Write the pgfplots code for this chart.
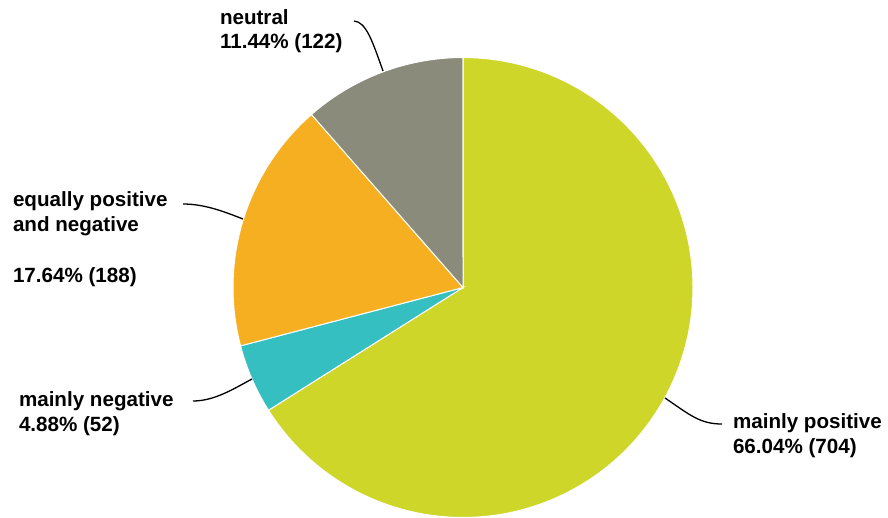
\documentclass[border=0pt]{standalone}
\usepackage{fontspec}
\setmainfont{Liberation Sans}
\usepackage{pgfplots}
\usepackage{pgfplotstable}
\pgfplotsset{compat=1.18}
\definecolor{cPos}{HTML}{CFD62A}
\definecolor{cNeg}{HTML}{35BFC0}
\definecolor{cEq}{HTML}{F6AF20}
\definecolor{cNeu}{HTML}{8A8B7A}
\pgfplotstableread{
label value
pos 704
neg 52
eq 188
neu 122
}\piedata
\tikzset{lbl/.style={inner sep=0pt, outer sep=0pt, anchor=base west, font=\fontsize{20.6}{24.5}\selectfont\bfseries}}
\begin{document}
\begin{tikzpicture}
\pgfplotstablegetelem{0}{value}\of\piedata \pgfmathsetmacro\vA{\pgfplotsretval}
\pgfplotstablegetelem{1}{value}\of\piedata \pgfmathsetmacro\vB{\pgfplotsretval}
\pgfplotstablegetelem{2}{value}\of\piedata \pgfmathsetmacro\vC{\pgfplotsretval}
\pgfplotstablegetelem{3}{value}\of\piedata \pgfmathsetmacro\vD{\pgfplotsretval}
\pgfmathsetmacro\tot{\vA+\vB+\vC+\vD}
\pgfmathsetmacro\aO{90}
\pgfmathsetmacro\aA{90-360*(\vA/\tot)}
\pgfmathsetmacro\aB{\aA-360*(\vB/\tot)}
\pgfmathsetmacro\aC{\aB-360*(\vC/\tot)}
\pgfmathsetmacro\aD{\aC-360*(\vD/\tot)}
\useasboundingbox (0,0) rectangle (888pt,517pt);
\begin{axis}[x=1pt,y=1pt,xmin=0,xmax=888,ymin=0,ymax=517,
  hide axis, scale only axis, anchor=origin, at={(0,0)}, clip=true]
\def\cx{463}\def\cy{229.5}\def\R{230}
\addplot[fill=cPos, draw=white, line width=1pt, domain=\aA:\aO, samples=120, variable=\t]
  ({\cx+\R*cos(t)},{\cy+\R*sin(t)}) -- (axis cs:\cx,\cy) -- cycle;
\addplot[fill=cNeg, draw=white, line width=1pt, domain=\aB:\aA, samples=20, variable=\t]
  ({\cx+\R*cos(t)},{\cy+\R*sin(t)}) -- (axis cs:\cx,\cy) -- cycle;
\addplot[fill=cEq, draw=white, line width=1pt, domain=\aC:\aB, samples=50, variable=\t]
  ({\cx+\R*cos(t)},{\cy+\R*sin(t)}) -- (axis cs:\cx,\cy) -- cycle;
\addplot[fill=cNeu, draw=white, line width=1pt, domain=\aD:\aC, samples=40, variable=\t]
  ({\cx+\R*cos(t)},{\cy+\R*sin(t)}) -- (axis cs:\cx,\cy) -- cycle;
% leader lines
\draw[line width=1.3pt] (axis cs:354,496) .. controls (axis cs:366,495) and (axis cs:372,477) .. (axis cs:383,446);
\draw[line width=1.3pt] (axis cs:183,313) .. controls (axis cs:205,313) and (axis cs:225,305) .. (axis cs:243,298);
\draw[line width=1.3pt] (axis cs:193,116) .. controls (axis cs:215,116) and (axis cs:235,129) .. (axis cs:252,138);
\draw[line width=1.3pt] (axis cs:665,119) .. controls (axis cs:690,102) and (axis cs:700,93) .. (axis cs:722,93);
% labels
\node[lbl] at (axis cs:220,492) {neutral};
\node[lbl] at (axis cs:220,468) {11.44\% (122)};
\node[lbl] at (axis cs:13,310) {equally positive};
\node[lbl] at (axis cs:13,285) {and negative};
\node[lbl] at (axis cs:13,235) {17.64\% (188)};
\node[lbl] at (axis cs:19,111) {mainly negative};
\node[lbl] at (axis cs:19,86) {4.88\% (52)};
\node[lbl] at (axis cs:733,89) {mainly positive};
\node[lbl] at (axis cs:733,64) {66.04\% (704)};
\end{axis}
\end{tikzpicture}
\end{document}
